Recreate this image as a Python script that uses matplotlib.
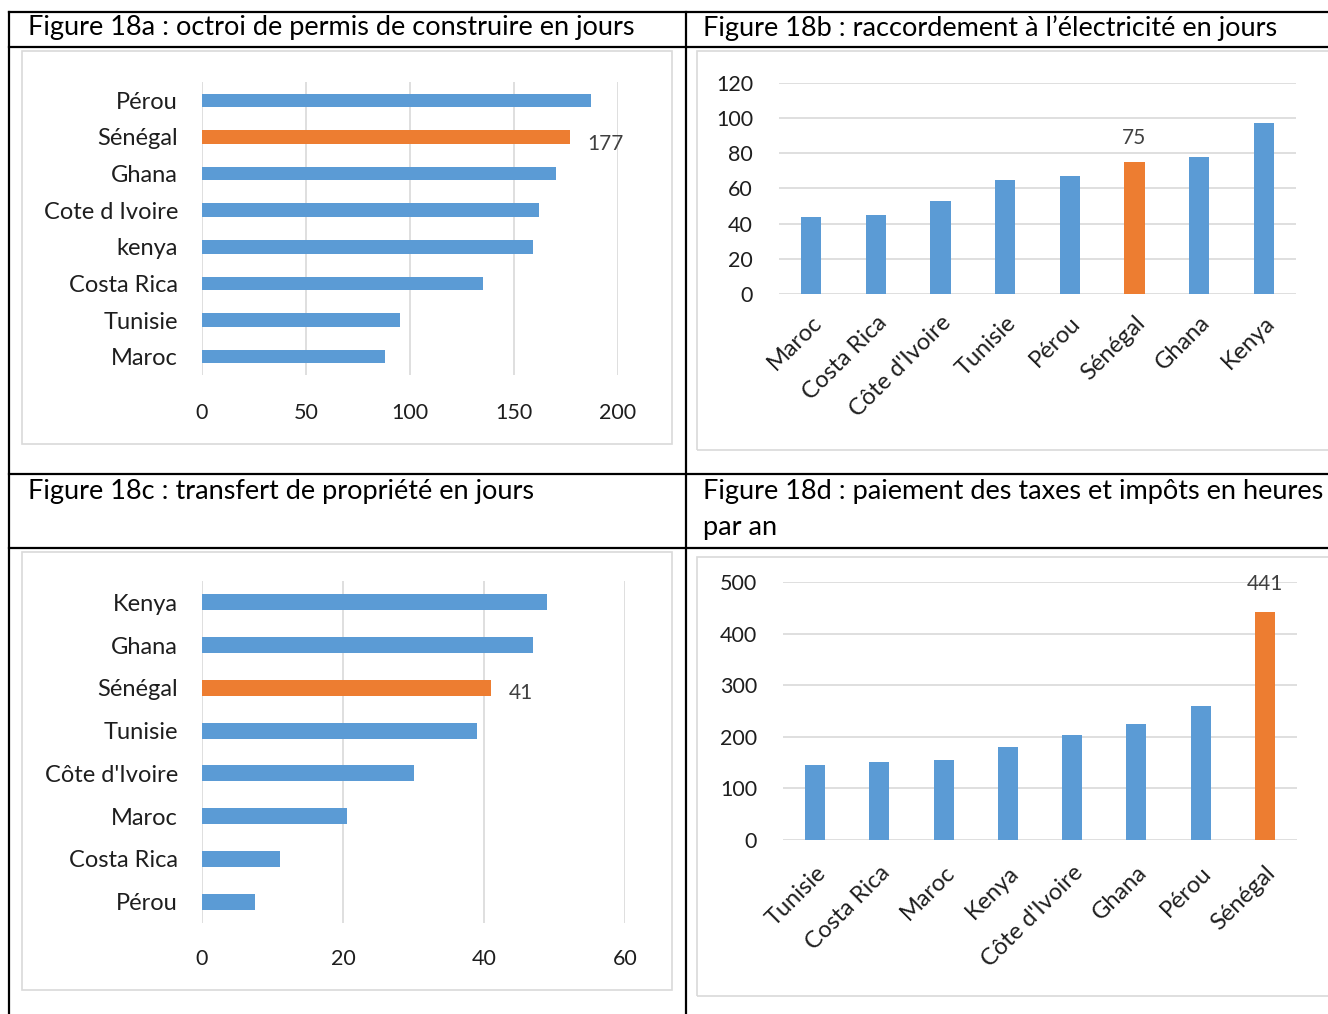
import matplotlib
matplotlib.use("Agg")
import matplotlib.pyplot as plt
from matplotlib.lines import Line2D
from matplotlib.patches import Rectangle

# ---------------- data ----------------
cats_a = ["Pérou", "Sénégal", "Ghana", "Cote d Ivoire", "kenya", "Costa Rica", "Tunisie", "Maroc"]
vals_a = [187, 177, 170, 162, 159, 135, 95, 88]
ticks_a = [0, 50, 100, 150, 200]

cats_b = ["Maroc", "Costa Rica", "Côte d'Ivoire", "Tunisie", "Pérou", "Sénégal", "Ghana", "Kenya"]
vals_b = [44, 45, 53, 65, 67, 75, 78, 97]
ticks_b = [0, 20, 40, 60, 80, 100, 120]

cats_c = ["Kenya", "Ghana", "Sénégal", "Tunisie", "Côte d'Ivoire", "Maroc", "Costa Rica", "Pérou"]
vals_c = [49, 47, 41, 39, 30, 20.5, 11, 7.5]
ticks_c = [0, 20, 40, 60]

cats_d = ["Tunisie", "Costa Rica", "Maroc", "Kenya", "Côte d'Ivoire", "Ghana", "Pérou", "Sénégal"]
vals_d = [145, 151, 155, 181, 204, 224, 260, 441]
ticks_d = [0, 100, 200, 300, 400, 500]

titles = ["Figure 18a : octroi de permis de construire en jours",
          "Figure 18b : raccordement à l’électricité en jours",
          "Figure 18c : transfert de propriété en jours",
          "Figure 18d : paiement des taxes et impôts en heures",
          "par an"]

highlight = "Sénégal"
BLUE = "#5B9BD5"
ORANGE = "#ED7D31"
GRID = "#D9D9D9"
TXT = "#1E1E1E"
LBL = "#404040"

W, H = 1328, 1014
plt.rcParams['font.family'] = ['Lato', 'DejaVu Sans']
fig = plt.figure(figsize=(W / 100, H / 100), dpi=100)


def px(v):
    return v * 0.72  # pixels -> points


def add_ax(l, r, t, b):
    return fig.add_axes([l / W, 1 - b / H, (r - l) / W, (b - t) / H])


def hline(y, x1, x2, color="black", lw=1.6):
    fig.add_artist(Line2D([x1 / W, x2 / W], [1 - y / H, 1 - y / H],
                          transform=fig.transFigure, color=color, lw=lw))


def vline(x, y1, y2, color="black", lw=1.6):
    fig.add_artist(Line2D([x / W, x / W], [1 - y1 / H, 1 - y2 / H],
                          transform=fig.transFigure, color=color, lw=lw))


def box(l, r, t, b):
    fig.add_artist(Rectangle((l / W, 1 - b / H), (r - l) / W, (b - t) / H,
                             transform=fig.transFigure, fill=False,
                             edgecolor=GRID, lw=1.2))


# ---------------- table frame ----------------
for y in (12, 47, 474, 548):
    hline(y, 9, W + 5)
vline(9, 12, H + 5)
vline(686, 12, H + 5)

box(22, 672, 51, 444)
box(697, W + 20, 51, 450)
box(22, 672, 552, 990)
box(697, W + 20, 557, 996)

TS = 19.5
fig.text(28 / W, 1 - 28 / H, titles[0], fontsize=TS, va="center", ha="left", color="black")
fig.text(703 / W, 1 - 28 / H, titles[1], fontsize=TS, va="center", ha="left", color="black")
fig.text(28 / W, 1 - 492 / H, titles[2], fontsize=TS, va="center", ha="left", color="black")
fig.text(703 / W, 1 - 492 / H, titles[3], fontsize=TS, va="center", ha="left", color="black")
fig.text(703 / W, 1 - 527 / H, titles[4], fontsize=TS, va="center", ha="left", color="black")


def style(ax):
    for s in ax.spines.values():
        s.set_visible(False)
    ax.set_axisbelow(True)
    ax.tick_params(length=0, colors=TXT)


CS = 17    # category label size
NS = 15.5  # numeric tick size


def hbar(ax, cats, vals, ticks, xmax, lbl_dx, lbl_dy, ypad, xpad):
    colors = [ORANGE if c == highlight else BLUE for c in cats]
    pos = list(range(len(cats)))
    ax.barh(pos, vals, height=0.37, color=colors, zorder=3)
    ax.set_yticks(pos)
    ax.set_yticklabels(cats, fontsize=CS, color=TXT)
    ax.set_ylim(len(cats) - 0.5, -0.5)
    ax.set_xlim(0, xmax)
    ax.set_xticks(ticks)
    ax.set_xticklabels([str(t) for t in ticks], fontsize=NS, color=TXT)
    ax.grid(axis="x", color=GRID, lw=1.2)
    style(ax)
    ax.tick_params(axis="y", pad=px(ypad))
    ax.tick_params(axis="x", pad=px(xpad))
    i = cats.index(highlight)
    ax.annotate(f"{vals[i]:g}", xy=(vals[i], i), xytext=(lbl_dx, lbl_dy),
                textcoords="offset pixels", ha="left", va="center",
                fontsize=15, color=LBL)


def vbar(ax, cats, vals, ticks, ymax, lbl_dy, ypad, xpad):
    colors = [ORANGE if c == highlight else BLUE for c in cats]
    pos = list(range(len(cats)))
    ax.bar(pos, vals, width=0.315, color=colors, zorder=3)
    ax.set_xticks(pos)
    ax.set_xticklabels(cats, fontsize=CS, color=TXT, rotation=45,
                       ha="right", va="top", rotation_mode="anchor")
    ax.set_xlim(-0.5, len(cats) - 0.5)
    ax.set_ylim(0, ymax)
    ax.set_yticks(ticks)
    ax.set_yticklabels([str(t) for t in ticks], fontsize=NS, color=TXT)
    ax.grid(axis="y", color=GRID, lw=1.2)
    style(ax)
    ax.tick_params(axis="y", pad=px(ypad))
    ax.tick_params(axis="x", pad=px(xpad))
    i = cats.index(highlight)
    ax.annotate(f"{vals[i]:g}", xy=(i, vals[i]), xytext=(0, lbl_dy),
                textcoords="offset pixels", ha="center", va="center",
                fontsize=15, color=LBL)


ax_a = add_ax(202, 618, 82, 375)
hbar(ax_a, cats_a, vals_a, ticks_a, 200, 17, -7, 24, 28)

ax_b = add_ax(779, 1296, 83, 294)
vbar(ax_b, cats_b, vals_b, ticks_b, 120, 24, 26, 18)

ax_c = add_ax(202, 625, 581, 923)
hbar(ax_c, cats_c, vals_c, ticks_c, 60, 18, -5, 24, 26)

ax_d = add_ax(783, 1297, 582, 840)
vbar(ax_d, cats_d, vals_d, ticks_d, 500, 28, 26, 22)

fig.savefig("out.png", dpi=100)
